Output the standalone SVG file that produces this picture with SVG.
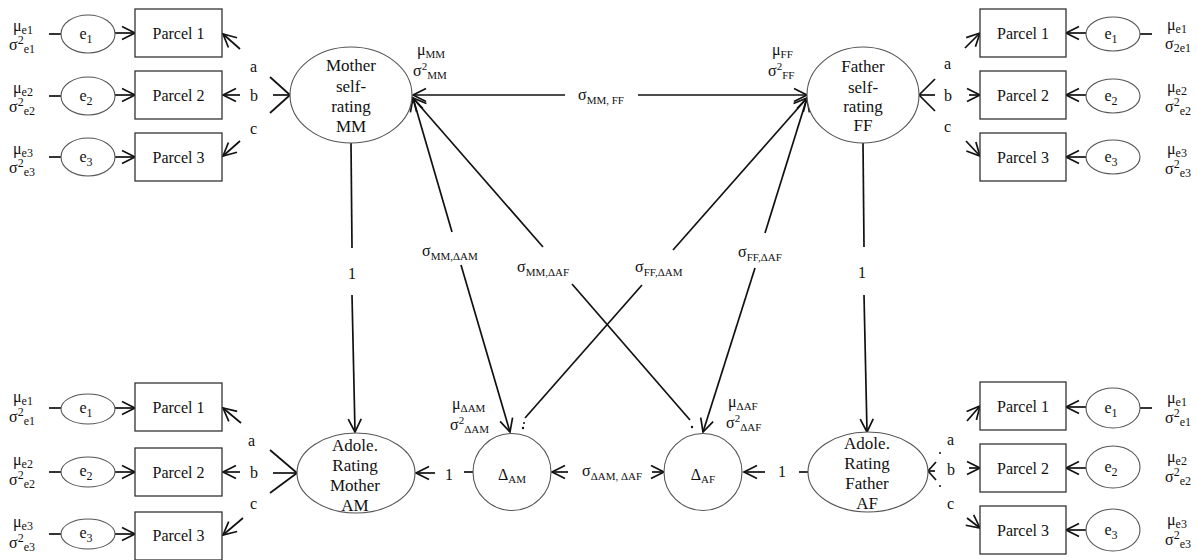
<svg xmlns="http://www.w3.org/2000/svg" width="1197" height="560" viewBox="0 0 1197 560">
<defs>
<marker id="ah" viewBox="-16 -10 20 20" refX="0" refY="0" markerWidth="20" markerHeight="20" markerUnits="userSpaceOnUse" orient="auto">
<path d="M-13,-6.5 L0,0 L-13,6.5" fill="none" stroke="#111" stroke-width="1.7"/>
</marker>
</defs>
<style>
text{font-family:"Liberation Serif","Times New Roman",serif;fill:#111}
.box{fill:#fff;stroke:#333;stroke-width:1.3}
.ell{fill:#fff;stroke:#555;stroke-width:1.1}
.ln{stroke:#111;stroke-width:1.7;fill:none}
.ar{marker-end:url(#ah)}
.n16{font-size:16px}
.n17{font-size:17px}
.m{font-size:16px}
.s{font-size:12px}
.ss{font-size:11px}
.lab{font-size:16px}
</style>
<rect width="1197" height="560" fill="#fff"/>

<g id="connectors">
<line class="ln" x1="290" y1="95" x2="270" y2="77"/>
<line class="ln" x1="290" y1="95" x2="273" y2="95"/>
<line class="ln" x1="290" y1="95" x2="270" y2="113"/>
<line class="ln ar" x1="240" y1="49" x2="223" y2="34"/>
<line class="ln ar" x1="240" y1="95" x2="223" y2="95"/>
<line class="ln ar" x1="240" y1="141" x2="223" y2="156"/>
<line class="ln ar" x1="115" y1="33" x2="135" y2="33"/>
<line class="ln ar" x1="115" y1="95" x2="135" y2="95"/>
<line class="ln ar" x1="115" y1="157" x2="135" y2="157"/>
<line class="ln" x1="49" y1="34" x2="61" y2="34"/>
<line class="ln" x1="49" y1="96" x2="61" y2="96"/>
<line class="ln" x1="49" y1="157" x2="61" y2="157"/>
<line class="ln" x1="919" y1="95" x2="935" y2="79"/>
<line class="ln" x1="919" y1="95" x2="935" y2="95"/>
<line class="ln" x1="919" y1="95" x2="935" y2="111"/>
<line class="ln ar" x1="965" y1="48" x2="980" y2="33"/>
<line class="ln ar" x1="969" y1="95" x2="980" y2="95"/>
<line class="ln ar" x1="966" y1="141" x2="980" y2="156"/>
<line class="ln ar" x1="1086" y1="33" x2="1066" y2="33"/>
<line class="ln ar" x1="1086" y1="95" x2="1066" y2="95"/>
<line class="ln ar" x1="1086" y1="157" x2="1066" y2="157"/>
<line class="ln" x1="1140" y1="34" x2="1152" y2="34"/>
<line class="ln" x1="297" y1="473" x2="270" y2="450"/>
<line class="ln" x1="297" y1="473" x2="273" y2="473"/>
<line class="ln" x1="297" y1="473" x2="270" y2="493"/>
<line class="ln ar" x1="241" y1="423" x2="223" y2="408"/>
<line class="ln ar" x1="240" y1="472" x2="223" y2="472"/>
<line class="ln ar" x1="243" y1="518" x2="223" y2="535"/>
<line class="ln ar" x1="115" y1="408" x2="135" y2="408"/>
<line class="ln ar" x1="115" y1="472" x2="135" y2="472"/>
<line class="ln ar" x1="115" y1="534" x2="135" y2="534"/>
<line class="ln" x1="49" y1="408" x2="61" y2="408"/>
<line class="ln" x1="49" y1="472" x2="61" y2="472"/>
<line class="ln" x1="49" y1="534" x2="61" y2="534"/>
<line class="ln" x1="928" y1="471" x2="936" y2="462"/>
<line class="ln" x1="928" y1="471" x2="935" y2="471"/>
<line class="ln" x1="928" y1="471" x2="936" y2="480"/>
<circle cx="940" cy="453" r="1" fill="#111"/>
<circle cx="940" cy="486" r="1" fill="#111"/>
<line class="ln ar" x1="967" y1="421" x2="980" y2="406"/>
<line class="ln ar" x1="969" y1="468" x2="980" y2="468"/>
<line class="ln ar" x1="967" y1="518" x2="980" y2="528"/>
<line class="ln ar" x1="1086" y1="407" x2="1066" y2="407"/>
<line class="ln ar" x1="1086" y1="468" x2="1066" y2="468"/>
<line class="ln ar" x1="1086" y1="530" x2="1066" y2="530"/>
<line class="ln" x1="1140" y1="408" x2="1152" y2="408"/>
<line class="ln" x1="351" y1="143" x2="352" y2="248"/>
<line class="ln ar" x1="352" y1="295" x2="355" y2="432"/>
<line class="ln" x1="863" y1="143" x2="864" y2="247"/>
<line class="ln ar" x1="864" y1="295" x2="867" y2="432"/>
<line class="ln ar" x1="565" y1="95" x2="413" y2="95"/>
<line class="ln ar" x1="638" y1="95" x2="807" y2="95"/>
<line class="ln ar" x1="452" y1="232" x2="413" y2="98"/>
<line class="ln ar" x1="461" y1="265" x2="510" y2="432"/>
<line class="ln ar" x1="543" y1="247" x2="413" y2="98"/>
<line class="ln" x1="572" y1="284" x2="690" y2="420"/>
<circle cx="692" cy="427" r="1.2" fill="#111"/>
<line class="ln ar" x1="673" y1="250" x2="807" y2="98"/>
<line class="ln" x1="642" y1="285" x2="525" y2="418"/>
<circle cx="524" cy="423" r="1" fill="#111"/>
<circle cx="523" cy="428" r="1.2" fill="#111"/>
<line class="ln ar" x1="765" y1="233" x2="807" y2="98"/>
<line class="ln ar" x1="755" y1="268" x2="703" y2="432"/>
<line class="ln" x1="473" y1="472" x2="464" y2="472"/>
<line class="ln ar" x1="435" y1="473" x2="416" y2="473"/>
<line class="ln" x1="808" y1="472" x2="799" y2="472"/>
<line class="ln ar" x1="765" y1="472" x2="744" y2="472"/>
<line class="ln ar" x1="568" y1="472" x2="552" y2="472"/>
<line class="ln ar" x1="652" y1="472" x2="664" y2="472"/>
</g>

<g id="connector-labels">
<text class="lab" x="250" y="72">a</text>
<text class="lab" x="250" y="101">b</text>
<text class="lab" x="250" y="134">c</text>
<text class="lab" x="944" y="69">a</text>
<text class="lab" x="944" y="101">b</text>
<text class="lab" x="944" y="132">c</text>
<text class="lab" x="248" y="446">a</text>
<text class="lab" x="250" y="478">b</text>
<text class="lab" x="250" y="509">c</text>
<text class="lab" x="947" y="445">a</text>
<text class="lab" x="947" y="475">b</text>
<text class="lab" x="947" y="509">c</text>
<text class="n16" x="352" y="279" text-anchor="middle">1</text>
<text class="n16" x="862" y="278" text-anchor="middle">1</text>
<text class="n16" x="449" y="480" text-anchor="middle">1</text>
<text class="n16" x="782" y="477" text-anchor="middle">1</text>
<text class="m" x="578" y="100">σ<tspan class="ss" dy="4">MM, FF</tspan></text>
<text class="m" x="422" y="256">σ<tspan class="ss" dy="4">MM,ΔAM</tspan></text>
<text class="m" x="517" y="272">σ<tspan class="ss" dy="4">MM,ΔAF</tspan></text>
<text class="m" x="635" y="272">σ<tspan class="ss" dy="4">FF,ΔAM</tspan></text>
<text class="m" x="738" y="257">σ<tspan class="ss" dy="4">FF,ΔAF</tspan></text>
<text class="m" x="582" y="476">σ<tspan class="ss" dy="4">ΔAM, ΔAF</tspan></text>
</g>

<g id="mother-self-rating">
<ellipse class="ell" cx="351" cy="95" rx="61" ry="48"/>
<text class="n17" text-anchor="middle"><tspan x="351" y="71">Mother</tspan><tspan x="351" y="92">self-</tspan><tspan x="351" y="112">rating</tspan><tspan x="351" y="132">MM</tspan></text>
<text class="m" x="417" y="55">μ<tspan class="ss" dy="3">MM</tspan></text>
<text class="m" x="413" y="76">σ<tspan class="ss" dy="-6">2</tspan><tspan class="ss" dy="9">MM</tspan></text>
</g>

<g id="father-self-rating">
<ellipse class="ell" cx="863" cy="95" rx="56" ry="48"/>
<text class="n17" text-anchor="middle"><tspan x="863" y="72">Father</tspan><tspan x="863" y="93">self-</tspan><tspan x="863" y="112">rating</tspan><tspan x="863" y="131">FF</tspan></text>
<text class="m" x="772" y="55">μ<tspan class="ss" dy="3">FF</tspan></text>
<text class="m" x="768" y="76">σ<tspan class="ss" dy="-6">2</tspan><tspan class="ss" dy="9">FF</tspan></text>
</g>

<g id="adole-rating-mother">
<ellipse class="ell" cx="356" cy="473" rx="59" ry="40"/>
<text class="n17" text-anchor="middle"><tspan x="355" y="451">Adole.</tspan><tspan x="355" y="471">Rating</tspan><tspan x="355" y="491">Mother</tspan><tspan x="355" y="511">AM</tspan></text>
</g>

<g id="adole-rating-father">
<ellipse class="ell" cx="868" cy="472" rx="60" ry="40"/>
<text class="n17" text-anchor="middle"><tspan x="867" y="449">Adole.</tspan><tspan x="867" y="469">Rating</tspan><tspan x="867" y="489">Father</tspan><tspan x="867" y="509">AF</tspan></text>
</g>

<g id="delta-am">
<ellipse class="ell" cx="512" cy="472" rx="39" ry="38.5"/>
<text class="m" x="512" y="480" text-anchor="middle">Δ<tspan class="ss" dy="3">AM</tspan></text>
<text class="m" x="452" y="409">μ<tspan class="ss" dy="3">ΔAM</tspan></text>
<text class="m" x="450" y="430">σ<tspan class="ss" dy="-6">2</tspan><tspan class="ss" dy="9">ΔAM</tspan></text>
</g>

<g id="delta-af">
<ellipse class="ell" cx="703" cy="472" rx="39" ry="38.5"/>
<text class="m" x="703" y="480" text-anchor="middle">Δ<tspan class="ss" dy="3">AF</tspan></text>
<text class="m" x="728" y="407">μ<tspan class="ss" dy="3">ΔAF</tspan></text>
<text class="m" x="726" y="428">σ<tspan class="ss" dy="-6">2</tspan><tspan class="ss" dy="9">ΔAF</tspan></text>
</g>

<g id="tl-parcel1"><rect class="box" x="135" y="9" width="87" height="48"/><text class="n16" x="178.5" y="39" text-anchor="middle">Parcel 1</text></g>
<g id="tl-parcel2"><rect class="box" x="135" y="71" width="87" height="48"/><text class="n16" x="178.5" y="101" text-anchor="middle">Parcel 2</text></g>
<g id="tl-parcel3"><rect class="box" x="135" y="133" width="87" height="48"/><text class="n16" x="178.5" y="163" text-anchor="middle">Parcel 3</text></g>
<g id="tl-e1"><ellipse class="ell" cx="88" cy="34" rx="27" ry="19"/><text class="n16" x="86" y="39" text-anchor="middle">e<tspan class="s" dy="4">1</tspan></text>
<text class="m" x="13" y="31">μ<tspan class="s" dy="3">e1</tspan></text><text class="m" x="9" y="50">σ<tspan class="s" dy="-6">2</tspan><tspan class="s" dy="9">e1</tspan></text></g>
<g id="tl-e2"><ellipse class="ell" cx="88" cy="96" rx="27" ry="19"/><text class="n16" x="86" y="101" text-anchor="middle">e<tspan class="s" dy="4">2</tspan></text>
<text class="m" x="13" y="93">μ<tspan class="s" dy="3">e2</tspan></text><text class="m" x="9" y="112">σ<tspan class="s" dy="-6">2</tspan><tspan class="s" dy="9">e2</tspan></text></g>
<g id="tl-e3"><ellipse class="ell" cx="88" cy="157" rx="27" ry="19"/><text class="n16" x="86" y="162" text-anchor="middle">e<tspan class="s" dy="4">3</tspan></text>
<text class="m" x="13" y="154">μ<tspan class="s" dy="3">e3</tspan></text><text class="m" x="9" y="173">σ<tspan class="s" dy="-6">2</tspan><tspan class="s" dy="9">e3</tspan></text></g>

<g id="tr-parcel1"><rect class="box" x="980" y="9" width="86" height="48"/><text class="n16" x="1023" y="39" text-anchor="middle">Parcel 1</text></g>
<g id="tr-parcel2"><rect class="box" x="980" y="71" width="86" height="48"/><text class="n16" x="1023" y="101" text-anchor="middle">Parcel 2</text></g>
<g id="tr-parcel3"><rect class="box" x="980" y="133" width="86" height="48"/><text class="n16" x="1023" y="163" text-anchor="middle">Parcel 3</text></g>
<g id="tr-e1"><ellipse class="ell" cx="1113" cy="34" rx="27" ry="17"/><text class="n16" x="1111" y="39" text-anchor="middle">e<tspan class="s" dy="4">1</tspan></text>
<text class="m" x="1167" y="30">μ<tspan class="s" dy="3">e1</tspan></text><text class="m" x="1165" y="49">σ<tspan class="s" dy="3">2e1</tspan></text></g>
<g id="tr-e2"><ellipse class="ell" cx="1113" cy="96" rx="27" ry="17"/><text class="n16" x="1111" y="101" text-anchor="middle">e<tspan class="s" dy="4">2</tspan></text>
<text class="m" x="1167" y="92">μ<tspan class="s" dy="3">e2</tspan></text><text class="m" x="1165" y="112">σ<tspan class="s" dy="-6">2</tspan><tspan class="s" dy="9">e2</tspan></text></g>
<g id="tr-e3"><ellipse class="ell" cx="1113" cy="157" rx="27" ry="17"/><text class="n16" x="1111" y="162" text-anchor="middle">e<tspan class="s" dy="4">3</tspan></text>
<text class="m" x="1167" y="154">μ<tspan class="s" dy="3">e3</tspan></text><text class="m" x="1165" y="174">σ<tspan class="s" dy="-6">2</tspan><tspan class="s" dy="9">e3</tspan></text></g>

<g id="bl-parcel1"><rect class="box" x="135" y="383" width="87" height="48"/><text class="n16" x="178.5" y="413" text-anchor="middle">Parcel 1</text></g>
<g id="bl-parcel2"><rect class="box" x="135" y="448" width="87" height="48"/><text class="n16" x="178.5" y="478" text-anchor="middle">Parcel 2</text></g>
<g id="bl-parcel3"><rect class="box" x="135" y="512" width="87" height="48"/><text class="n16" x="178.5" y="541" text-anchor="middle">Parcel 3</text></g>
<g id="bl-e1"><ellipse class="ell" cx="88" cy="409" rx="27" ry="15"/><text class="n16" x="86" y="413" text-anchor="middle">e<tspan class="s" dy="4">1</tspan></text>
<text class="m" x="13" y="402">μ<tspan class="s" dy="3">e1</tspan></text><text class="m" x="9" y="422">σ<tspan class="s" dy="-6">2</tspan><tspan class="s" dy="9">e1</tspan></text></g>
<g id="bl-e2"><ellipse class="ell" cx="88" cy="472" rx="27" ry="15"/><text class="n16" x="86" y="476" text-anchor="middle">e<tspan class="s" dy="4">2</tspan></text>
<text class="m" x="13" y="465">μ<tspan class="s" dy="3">e2</tspan></text><text class="m" x="9" y="485">σ<tspan class="s" dy="-6">2</tspan><tspan class="s" dy="9">e2</tspan></text></g>
<g id="bl-e3"><ellipse class="ell" cx="88" cy="534" rx="27" ry="15"/><text class="n16" x="86" y="538" text-anchor="middle">e<tspan class="s" dy="4">3</tspan></text>
<text class="m" x="13" y="527">μ<tspan class="s" dy="3">e3</tspan></text><text class="m" x="9" y="548">σ<tspan class="s" dy="-6">2</tspan><tspan class="s" dy="9">e3</tspan></text></g>

<g id="br-parcel1"><rect class="box" x="980" y="382" width="86" height="48"/><text class="n16" x="1023" y="412" text-anchor="middle">Parcel 1</text></g>
<g id="br-parcel2"><rect class="box" x="980" y="444" width="86" height="48"/><text class="n16" x="1023" y="474" text-anchor="middle">Parcel 2</text></g>
<g id="br-parcel3"><rect class="box" x="980" y="506" width="86" height="48"/><text class="n16" x="1023" y="536" text-anchor="middle">Parcel 3</text></g>
<g id="br-e1"><ellipse class="ell" cx="1113" cy="408" rx="27" ry="20"/><text class="n16" x="1111" y="413" text-anchor="middle">e<tspan class="s" dy="4">1</tspan></text>
<text class="m" x="1167" y="403">μ<tspan class="s" dy="3">e1</tspan></text><text class="m" x="1165" y="423">σ<tspan class="s" dy="-6">2</tspan><tspan class="s" dy="9">e1</tspan></text></g>
<g id="br-e2"><ellipse class="ell" cx="1113" cy="467" rx="27" ry="21"/><text class="n16" x="1111" y="472" text-anchor="middle">e<tspan class="s" dy="4">2</tspan></text>
<text class="m" x="1167" y="462">μ<tspan class="s" dy="3">e2</tspan></text><text class="m" x="1165" y="482">σ<tspan class="s" dy="-6">2</tspan><tspan class="s" dy="9">e2</tspan></text></g>
<g id="br-e3"><ellipse class="ell" cx="1113" cy="530" rx="27" ry="21"/><text class="n16" x="1111" y="535" text-anchor="middle">e<tspan class="s" dy="4">3</tspan></text>
<text class="m" x="1167" y="525">μ<tspan class="s" dy="3">e3</tspan></text><text class="m" x="1165" y="545">σ<tspan class="s" dy="-6">2</tspan><tspan class="s" dy="9">e3</tspan></text></g>
</svg>
